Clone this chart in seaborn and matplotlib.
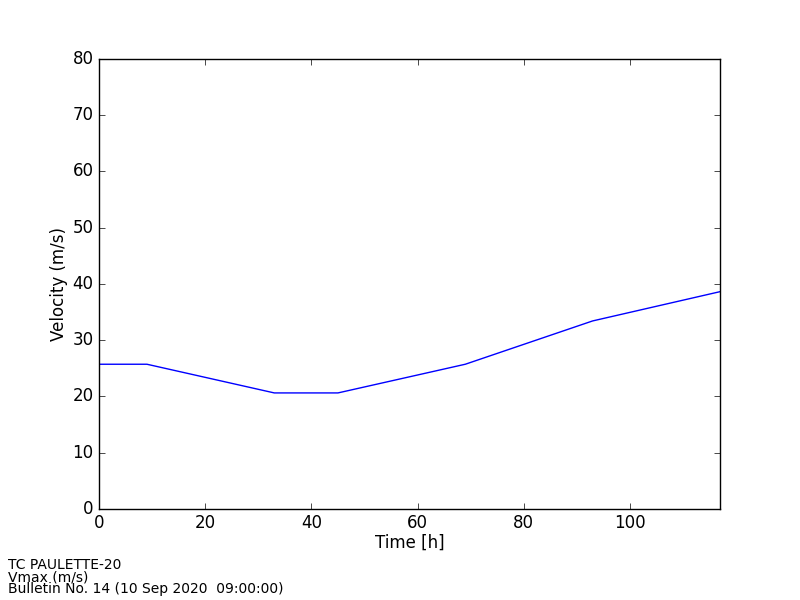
import pandas as pd
import matplotlib
matplotlib.use('Agg')
import matplotlib.pyplot as plt
import seaborn as sns

# Forecast lead time (hours) and max sustained wind (m/s)
hours = [0, 9, 33, 45, 69, 93, 117]
vmax = [25.7, 25.7, 20.6, 20.6, 25.7, 33.4, 38.6]

info_lines = ['TC PAULETTE-20', 'Vmax (m/s)', 'Bulletin No. 14 (10 Sep 2020  09:00:00)']

plt.style.use('classic')
plt.rcParams['font.family'] = ['DejaVu Sans']

df = pd.DataFrame({'Time [h]': hours, 'Velocity (m/s)': vmax})

fig = plt.figure(figsize=(8, 6), dpi=100, facecolor='white')
ax = fig.add_axes([0.124, 0.152, 0.776, 0.75])
sns.lineplot(data=df, x='Time [h]', y='Velocity (m/s)', color='blue', linewidth=1.0, ax=ax)

ax.set_xlim(0, 117)
ax.set_ylim(0, 80)
ax.set_xticks([0, 20, 40, 60, 80, 100])
ax.set_yticks(range(0, 81, 10))
ax.set_xlabel('Time [h]', fontsize=12, labelpad=1)
ax.set_ylabel('Velocity (m/s)', fontsize=12, labelpad=3)
ax.tick_params(labelsize=12)

for i, line in enumerate(info_lines):
    fig.text(0.01, 0.058 - i * 0.02, line, fontsize=10, va='center', ha='left')

fig.savefig('out.png', dpi=100, facecolor='white')
